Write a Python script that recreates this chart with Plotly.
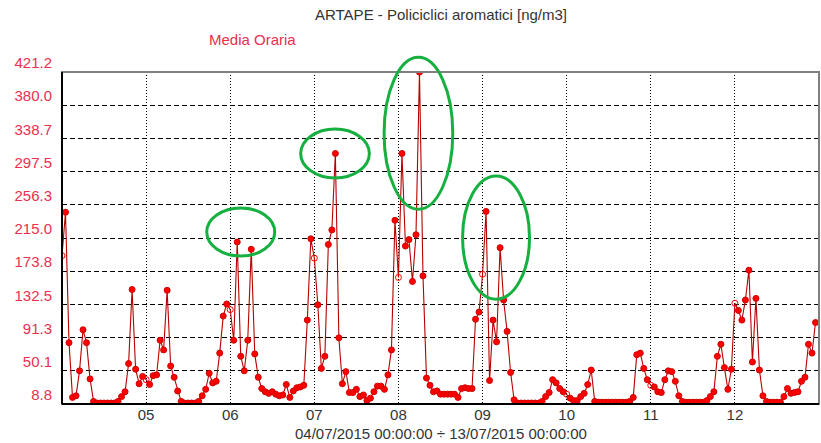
import plotly.graph_objects as go
import pandas as pd

# Hourly values (ng/m3), one list per day
day04 = [193, 247, 85, 17, 19, 50, 101, 85, 40, 12, 10, 10, 10, 10, 10, 10, 12, 18, 24, 59, 151, 52, 34, 43]
day05 = [39, 33, 44, 45, 88, 76, 150, 56, 42, 25, 12, 10, 10, 10, 10, 12, 19, 27, 47, 35, 37, 72, 118, 133]
day06 = [126, 88, 210, 68, 50, 88, 201, 71, 42, 28, 24, 22, 24, 21, 19, 20, 33, 17, 25, 29, 30, 32, 113, 214]
day07 = [190, 132, 53, 68, 207, 225, 320, 91, 34, 49, 23, 23, 27, 18, 20, 13, 16, 24, 31, 31, 27, 45, 76, 237]
day08 = [166, 320, 205, 213, 161, 219, 421, 168, 41, 32, 24, 25, 21, 21, 21, 21, 21, 17, 28, 29, 28, 28, 114, 123]
day09 = [170, 248, 38, 113, 86, 203, 138, 99, 48, 14, 10, 10, 10, 10, 10, 10, 10, 12, 18, 23, 39, 35, 28, 24]
day10 = [21, 16, 13, 13, 18, 22, 33, 51, 12, 11, 11, 11, 11, 11, 11, 11, 11, 11, 12, 17, 70, 72, 53, 39]
day11 = [32, 30, 24, 23, 39, 50, 49, 37, 19, 12, 11, 11, 11, 11, 11, 11, 13, 18, 24, 68, 83, 54, 27, 52]
day12 = [134, 125, 113, 138, 175, 61, 140, 51, 19, 12, 11, 11, 11, 11, 18, 28, 22, 23, 24, 37, 42, 83, 72, 110]

ytick_vals = [8.8, 50.1, 91.3, 132.5, 173.8, 215.0, 256.3, 297.5, 338.7, 380.0, 421.2]
xtick_labels = ["05", "06", "07", "08", "09", "10", "11", "12"]

# highlighted areas: (hour start, hour end, value low, value high)
ellipses = [
    (41.3, 60.7, 192.6, 252.3),
    (68.1, 87.7, 289.5, 350.4),
    (91.9, 111.5, 250.7, 439.5),
    (114.3, 133.4, 139.0, 292.0),
]

values = day04 + day05 + day06 + day07 + day08 + day09 + day10 + day11 + day12
times = pd.date_range("2015-07-04 00:00", periods=len(values), freq="h")
start = pd.Timestamp("2015-07-04 00:00")
end = pd.Timestamp("2015-07-13 00:00")
total_h = (end - start) / pd.Timedelta(hours=1)
ymin, ymax = ytick_vals[0], ytick_vals[-1]

symbols = ["circle-open" if t.hour == 0 else "circle" for t in times]

RED = "#e8304f"
fig = go.Figure()
fig.add_trace(go.Scatter(
    x=times, y=values, mode="lines+markers",
    line=dict(color="#b80000", width=1.1),
    marker=dict(color="#ff0000", size=6, symbol=symbols,
                line=dict(color="#d00000", width=1)),
    showlegend=False,
))

xticks = pd.date_range("2015-07-05", periods=len(xtick_labels), freq="D")

fig.update_layout(
    width=821, height=443,
    margin=dict(l=62, r=2, t=72, b=39),
    paper_bgcolor="white", plot_bgcolor="white",
    font=dict(family="Liberation Sans, Arial, sans-serif"),
    xaxis=dict(
        range=[start, end], tickmode="array", tickvals=xticks, ticktext=xtick_labels,
        showgrid=True, gridcolor="black", gridwidth=1, griddash="1px,2px",
        zeroline=False, showline=False, ticks="",
        tickfont=dict(size=15, color="#333333"), ticklabelstandoff=0,
    ),
    yaxis=dict(
        range=[ymin, ymax], tickmode="array", tickvals=ytick_vals,
        ticktext=[f"{v:.1f}" for v in ytick_vals],
        showgrid=True, gridcolor="black", gridwidth=1, griddash="5px,3px",
        zeroline=False, showline=False, ticks="",
        tickfont=dict(size=15, color=RED),
        ticklabelshift=-9, ticklabelstandoff=9,
    ),
)

# frame
fig.add_shape(type="rect", xref="paper", yref="paper", x0=0, x1=1, y0=0, y1=1,
              line=dict(color="#808080", width=2), layer="above")
fig.add_shape(type="line", xref="paper", yref="paper", x0=0, x1=0, y0=0, y1=1,
              line=dict(color="black", width=2), layer="above")
fig.add_shape(type="line", xref="paper", yref="paper", x0=0, x1=1, y0=0, y1=0,
              line=dict(color="black", width=2), layer="above")

for h0, h1, v0, v1 in ellipses:
    fig.add_shape(type="circle", xref="paper", yref="paper",
                  x0=h0 / total_h, x1=h1 / total_h,
                  y0=(v0 - ymin) / (ymax - ymin), y1=(v1 - ymin) / (ymax - ymin),
                  line=dict(color="#16b040", width=3), layer="above")

fig.add_annotation(text="ARTAPE - Policiclici aromatici [ng/m3]", xref="paper", yref="paper",
                   x=0.5, y=1.172, xanchor="center", yanchor="middle", showarrow=False,
                   font=dict(size=15, color="#333333"))
fig.add_annotation(text="Media Oraria", xref="paper", yref="paper",
                   x=0.251, y=1.099, xanchor="center", yanchor="middle", showarrow=False,
                   font=dict(size=15, color=RED))
fig.add_annotation(text="04/07/2015 00:00:00 ÷ 13/07/2015 00:00:00", xref="paper", yref="paper",
                   x=0.5, y=-0.09, xanchor="center", yanchor="middle", showarrow=False,
                   font=dict(size=15, color="#333333"))

fig.write_html("out.html")
